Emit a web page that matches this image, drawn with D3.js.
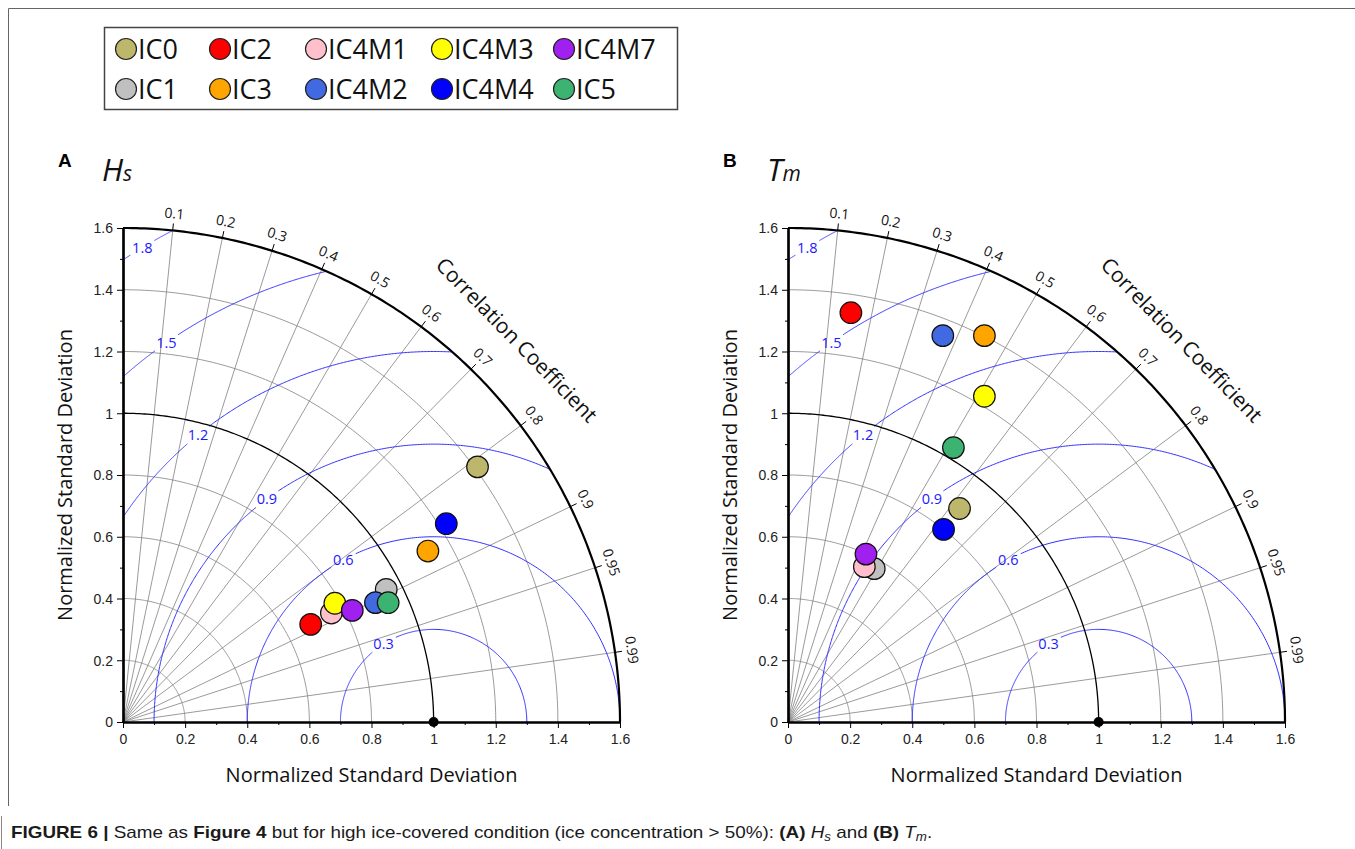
<html>
<head>
<meta charset="utf-8">
<style>
  body { margin: 0; background: #fff; }
  .tick text { font-family: "Liberation Sans", Arial, sans-serif; font-size: 14px; fill: #222; }
  .lbl { font-family: "Open Sans", sans-serif; fill: #111; }
</style>
</head>
<body>
<script src="https://d3js.org/d3.v7.min.js"></script>
<script>
// models, in legend / drawing order
var models = ["IC0", "IC1", "IC2", "IC3", "IC4M1", "IC4M2", "IC4M3", "IC4M4", "IC4M7", "IC5"];
var colors = ["#BDB76B", "#C0C0C0", "#FF0000", "#FFA500", "#FFC0CB", "#4169E1", "#FFFF00", "#0000FF", "#A020F0", "#3CB371"];

// normalized standard deviation and correlation
var hsStd = [1.409, 0.950, 0.682, 1.127, 0.758, 0.900, 0.783, 1.223, 0.822, 0.937];
var hsCor = [0.810, 0.892, 0.886, 0.871, 0.885, 0.903, 0.871, 0.851, 0.898, 0.911];
var tmStd = [0.885, 0.569, 1.341, 1.402, 0.560, 1.347, 1.230, 0.800, 0.599, 1.036];
var tmCor = [0.624, 0.488, 0.151, 0.451, 0.439, 0.370, 0.514, 0.626, 0.419, 0.514];

var corTicks = [0.1, 0.2, 0.3, 0.4, 0.5, 0.6, 0.7, 0.8, 0.9, 0.95, 0.99];
var stdTicks = [0, 0.2, 0.4, 0.6, 0.8, 1, 1.2, 1.4, 1.6];
var stdMinor = [0.1, 0.3, 0.5, 0.7, 0.9, 1.1, 1.3, 1.5];
var rmsLevels = [0.3, 0.6, 0.9, 1.2, 1.5, 1.8];
var rmsLabelAngle = [122.5, 119, 126.6, 129.2, 125, 121.4]; // degrees, around (1,0)

var W = 1355, H = 849, MAXS = 1.6;

var svg = d3.select("body").append("svg")
    .attr("width", W).attr("height", H);

// frame
svg.append("path").attr("d", "M8.5,806 V8.5 H1355")
    .attr("fill", "none").attr("stroke", "#666").attr("stroke-width", 1);
svg.append("line").attr("x1", 1.5).attr("x2", 1.5).attr("y1", 816).attr("y2", 849)
    .attr("stroke", "#888").attr("stroke-width", 1);

// legend
var legendCols = [126, 220, 316, 442, 564];
var legendRows = [49, 89];
var leg = svg.append("g");
leg.append("rect").attr("x", 104.5).attr("y", 27.5).attr("width", 573).attr("height", 82)
    .attr("fill", "#fff").attr("stroke", "#444").attr("stroke-width", 1.5);
models.forEach(function(m, i) {
    var cx = legendCols[Math.floor(i / 2)], cy = legendRows[i % 2];
    leg.append("circle").attr("cx", cx).attr("cy", cy).attr("r", 10.5)
        .attr("fill", colors[i]).attr("stroke", "#222").attr("stroke-width", 1.2);
    leg.append("text").attr("class", "lbl").attr("x", cx + 12).attr("y", cy).attr("dy", "0.36em")
        .attr("font-size", 27).text(m);
});

function panel(ox, std, cor, letter, main, sub) {
    var x = d3.scaleLinear().domain([0, MAXS]).range([ox, ox + 497]);
    var y = d3.scaleLinear().domain([0, MAXS]).range([722, 228]);
    var line = d3.line().x(d => x(d[0])).y(d => y(d[1]));
    var g = svg.append("g");

    function arc(r, a0, a1, cx) {
        var pts = d3.range(0, 181).map(function(k) {
            var a = a0 + (a1 - a0) * k / 180;
            return [cx + r * Math.cos(a), r * Math.sin(a)];
        });
        return line(pts);
    }

    // std dev arcs
    stdTicks.filter(s => s > 0 && s < MAXS && s !== 1).forEach(function(s) {
        g.append("path").attr("d", arc(s, 0, Math.PI / 2, 0))
            .attr("fill", "none").attr("stroke", "#808080").attr("stroke-width", 0.8);
    });
    // correlation rays
    corTicks.forEach(function(c) {
        var a = Math.acos(c);
        g.append("path").attr("d", line([[0, 0], [MAXS * Math.cos(a), MAXS * Math.sin(a)]]))
            .attr("stroke", "#808080").attr("stroke-width", 0.8);
    });

    // centred RMS difference contours
    rmsLevels.forEach(function(R, i) {
        var p0 = 0, p1 = Math.PI;
        if (1 + R > MAXS) p0 = Math.acos((MAXS * MAXS - 1 - R * R) / (2 * R));
        if (R > 1) p1 = Math.acos(-1 / R);
        var la = rmsLabelAngle[i] * Math.PI / 180;
        var gap = 14 / (R * 310);
        g.append("path").attr("d", arc(R, p0, la - gap, 1))
            .attr("fill", "none").attr("stroke", "#3030ff").attr("stroke-width", 1);
        g.append("path").attr("d", arc(R, la + gap, p1, 1))
            .attr("fill", "none").attr("stroke", "#3030ff").attr("stroke-width", 1);
        g.append("text").attr("x", x(1 + R * Math.cos(la))).attr("y", y(R * Math.sin(la)))
            .attr("dy", "0.35em").attr("text-anchor", "middle")
            .attr("font-family", "Open Sans, sans-serif").attr("font-size", 14.5)
            .attr("fill", "#1a1aff").text(d3.format(".1f")(R));
    });

    // reference arc (std = 1) and outer arc
    g.append("path").attr("d", arc(1, 0, Math.PI / 2, 0))
        .attr("fill", "none").attr("stroke", "#000").attr("stroke-width", 1.3);
    g.append("path").attr("d", arc(MAXS, 0, Math.PI / 2, 0))
        .attr("fill", "none").attr("stroke", "#000").attr("stroke-width", 2.2);

    // correlation ticks + labels
    corTicks.forEach(function(c) {
        var a = Math.acos(c);
        var px = x(MAXS * Math.cos(a)), py = y(MAXS * Math.sin(a));
        var ux = Math.cos(a), uy = -Math.sin(a);
        g.append("line").attr("x1", px).attr("y1", py).attr("x2", px + 7 * ux).attr("y2", py + 7 * uy)
            .attr("stroke", "#000").attr("stroke-width", 1);
        g.append("text").attr("class", "lbl")
            .attr("transform", "translate(" + (px + 17 * ux) + "," + (py + 17 * uy) + ") rotate(" + (90 - a * 180 / Math.PI) + ")")
            .attr("text-anchor", "middle").attr("dy", "0.35em").attr("font-size", 14)
            .text(c);
    });
    var ca = 44.3 * Math.PI / 180;
    g.append("text").attr("class", "lbl")
        .attr("transform", "translate(" + (x(MAXS * Math.cos(ca)) + 53 * Math.cos(ca)) + "," + (y(MAXS * Math.sin(ca)) - 53 * Math.sin(ca)) + ") rotate(" + (90 - 44.3) + ")")
        .attr("text-anchor", "middle").attr("dy", "0.35em").attr("font-size", 21)
        .text("Correlation Coefficient");

    // axes
    g.append("g").attr("transform", "translate(0,722)")
        .call(d3.axisBottom(x).tickValues(stdTicks).tickFormat(d3.format("~g")).tickSize(6).tickSizeOuter(0).tickPadding(6));
    g.append("g").attr("transform", "translate(0,722)")
        .call(d3.axisBottom(x).tickValues(stdMinor).tickFormat("").tickSize(3).tickSizeOuter(0));
    var ya = g.append("g").attr("transform", "translate(" + ox + ",0)")
        .call(d3.axisLeft(y).tickValues(stdTicks).tickFormat(d3.format("~g")).tickSize(6).tickSizeOuter(0).tickPadding(4));
    g.append("g").attr("transform", "translate(" + ox + ",0)")
        .call(d3.axisLeft(y).tickValues(stdMinor).tickFormat("").tickSize(3).tickSizeOuter(0));
    g.selectAll(".domain").attr("stroke", "#000").attr("stroke-width", 2.2);
    g.selectAll(".tick line").attr("stroke", "#000");
    ya.selectAll(".tick text").attr("dy", "0.35em");

    // reference point
    g.append("circle").attr("cx", x(1)).attr("cy", y(0)).attr("r", 5).attr("fill", "#000");

    // model points
    g.append("g").selectAll("circle").data(models).join("circle")
        .attr("cx", (d, i) => x(std[i] * cor[i]))
        .attr("cy", (d, i) => y(std[i] * Math.sin(Math.acos(cor[i]))))
        .attr("r", 10.8)
        .attr("fill", (d, i) => colors[i])
        .attr("stroke", "#111").attr("stroke-width", 1.2);

    // axis titles
    g.append("text").attr("class", "lbl").attr("x", x(0.8)).attr("y", 782)
        .attr("text-anchor", "middle").attr("font-size", 20).text("Normalized Standard Deviation");
    g.append("text").attr("class", "lbl")
        .attr("transform", "translate(" + (ox - 51) + "," + y(0.8) + ") rotate(-90)")
        .attr("text-anchor", "middle").attr("font-size", 20).text("Normalized Standard Deviation");

    // panel title
    g.append("text").attr("x", ox - 65).attr("y", 167)
        .attr("font-family", "Liberation Sans, Arial, sans-serif").attr("font-weight", "bold")
        .attr("font-size", 19).text(letter);
    var t = g.append("text").attr("class", "lbl").attr("x", ox - 21).attr("y", 181)
        .attr("font-style", "italic");
    t.append("tspan").attr("font-size", 31).text(main);
    t.append("tspan").attr("font-size", 21).text(sub);
}

panel(123, hsStd, hsCor, "A", "H", "s");
panel(788, tmStd, tmCor, "B", "T", "m");

// caption (stretched horizontally to the width it has in the figure)
var cap = svg.append("text").attr("x", 0).attr("y", 0)
    .attr("font-family", "Liberation Sans, Arial, sans-serif")
    .attr("font-size", 17).attr("fill", "#1a1a1a");
cap.append("tspan").attr("font-weight", "bold").text("FIGURE 6 | ");
cap.append("tspan").text("Same as ");
cap.append("tspan").attr("font-weight", "bold").text("Figure 4");
cap.append("tspan").text(" but for high ice-covered condition (ice concentration > 50%): ");
cap.append("tspan").attr("font-weight", "bold").text("(A)");
cap.append("tspan").text(" ");
cap.append("tspan").attr("font-style", "italic").text("H");
cap.append("tspan").attr("font-style", "italic").attr("font-size", 12).attr("dy", 3).text("s");
cap.append("tspan").attr("dy", -3).text(" and ");
cap.append("tspan").attr("font-weight", "bold").text("(B)");
cap.append("tspan").text(" ");
cap.append("tspan").attr("font-style", "italic").text("T");
cap.append("tspan").attr("font-style", "italic").attr("font-size", 12).attr("dy", 3).text("m");
cap.append("tspan").attr("dy", -3).text(".");
var cw = cap.node().getBBox().width;
cap.attr("transform", "translate(11,838) scale(" + (922 / cw) + ",1)");
</script>
</body>
</html>
